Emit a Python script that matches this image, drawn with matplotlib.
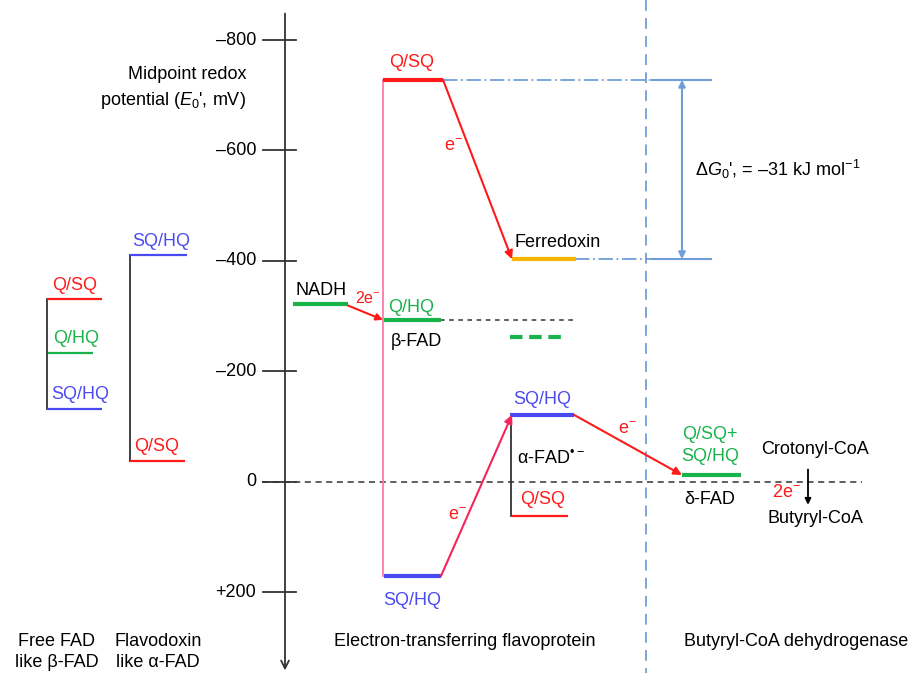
import matplotlib
matplotlib.use("Agg")
import matplotlib.pyplot as plt

plt.rcParams['font.family'] = ['Liberation Sans', 'DejaVu Sans']
plt.rcParams['mathtext.fontset'] = 'custom'
plt.rcParams['mathtext.rm'] = 'Liberation Sans'
plt.rcParams['mathtext.it'] = 'Liberation Sans:italic'
plt.rcParams['mathtext.bf'] = 'Liberation Sans:bold'

# axis ticks (mV)
tick_values = [-800, -600, -400, -200, 0, 200]
tick_labels = ['–800', '–600', '–400', '–200', '0', '+200']

# midpoint potentials (mV)
free_fad = [-330, -233, -132]          # Q/SQ, Q/HQ, SQ/HQ
flavodoxin = [-410, -37]               # SQ/HQ, Q/SQ
nadh = -322
beta_fad_qhq = -293
beta_fad_dashed = -262
alpha_fad = [-728, 171]                # Q/SQ, SQ/HQ (bifurcating)
ferredoxin = -403
alpha_fad_radical = [-121, 62]         # SQ/HQ, Q/SQ
delta_fad = -12
crotonyl = 0

RED = '#ff1a1a'
BLUE = '#4a4af2'
GREEN = '#19b24b'
PINK = '#ff7aa6'
ORANGE = '#f7b500'
LBLUE = '#6f9fd6'
FS = 13

fig = plt.figure(figsize=(9.14, 6.73), dpi=100)
ax = fig.add_axes([0, 0, 1, 1])
ax.set_xlim(0, 914)
ax.set_ylim(346.7, -872.5)
ax.axis('off')


def level(x0, x1, y, color, lw=3.0, **kw):
    ax.plot([x0, x1], [y, y], color=color, lw=lw, solid_capstyle='butt', **kw)


def arrow(p0, p1, color, lw=1.5, style='-|>', ms=12):
    ax.annotate('', xy=p1, xytext=p0,
                arrowprops=dict(arrowstyle=style, color=color, lw=lw,
                                mutation_scale=ms, shrinkA=0, shrinkB=0))


# y axis
ax.annotate('', xy=(285, 342), xytext=(285, -848),
            arrowprops=dict(arrowstyle='->', color='#333333', lw=1.3,
                            mutation_scale=14, shrinkA=0, shrinkB=0))
for v, lab in zip(tick_values, tick_labels):
    ax.plot([263, 296], [v, v], color='#333333', lw=1.3)
    ax.text(256, v, lab, ha='right', va='center', fontsize=FS)
ax.text(246, -737, 'Midpoint redox', ha='right', va='center', fontsize=FS)
ax.text(246, -690, "potential ($E_0$', mV)", ha='right', va='center', fontsize=FS)

# zero line
ax.plot([262, 862], [crotonyl, crotonyl], color='#333333', lw=1.1, ls=(0, (4, 3)))

# free FAD
ax.plot([47, 47], [free_fad[0], free_fad[2]], color='#333333', lw=1.3)
level(47, 102, free_fad[0], RED, lw=1.6)
level(48, 93, free_fad[1], GREEN, lw=1.6)
level(47, 102, free_fad[2], BLUE, lw=1.6)
ax.text(75, free_fad[0] - 25, 'Q/SQ', color=RED, ha='center', va='center', fontsize=FS)
ax.text(76, free_fad[1] - 27, 'Q/HQ', color=GREEN, ha='center', va='center', fontsize=FS)
ax.text(80, free_fad[2] - 26, 'SQ/HQ', color=BLUE, ha='center', va='center', fontsize=FS)

# flavodoxin
ax.plot([130, 130], flavodoxin, color='#333333', lw=1.3)
level(130, 187, flavodoxin[0], BLUE, lw=1.6)
level(130, 185, flavodoxin[1], RED, lw=1.6)
ax.text(161, flavodoxin[0] - 25, 'SQ/HQ', color=BLUE, ha='center', va='center', fontsize=FS)
ax.text(157, flavodoxin[1] - 26, 'Q/SQ', color=RED, ha='center', va='center', fontsize=FS)

# NADH -> beta-FAD
level(293, 348, nadh, GREEN)
ax.text(321, nadh - 24, 'NADH', ha='center', va='center', fontsize=FS)
arrow((348, nadh + 3), (383, beta_fad_qhq), RED, ms=10)
ax.text(368, nadh - 10, '2e$^{-}$', color=RED, ha='center', va='center', fontsize=FS - 1.5)
ax.plot([440, 575], [beta_fad_qhq, beta_fad_qhq], color='#333333', lw=1.1, ls=(0, (3, 3)))
level(384, 441, beta_fad_qhq, GREEN)
ax.text(411, beta_fad_qhq - 22, 'Q/HQ', color=GREEN, ha='center', va='center', fontsize=FS)
ax.text(416, beta_fad_qhq + 40, 'β-FAD', ha='center', va='center', fontsize=FS)
ax.plot([510, 567], [beta_fad_dashed, beta_fad_dashed], color=GREEN, lw=3, ls=(0, (3, 1.6)))

# bifurcating alpha-FAD
ax.plot([383, 383], alpha_fad, color=PINK, lw=1.3)
level(383, 443, alpha_fad[0], RED)
level(384, 441, alpha_fad[1], BLUE)
ax.text(412, alpha_fad[0] - 31, 'Q/SQ', color=RED, ha='center', va='center', fontsize=FS)
ax.text(412, alpha_fad[1] + 44, 'SQ/HQ', color=BLUE, ha='center', va='center', fontsize=FS)

# to ferredoxin
arrow((443, alpha_fad[0]), (512, ferredoxin), RED)
ax.text(453, -608, 'e$^{-}$', color=RED, ha='center', va='center', fontsize=FS)
ax.plot([443, 652], [alpha_fad[0], alpha_fad[0]], color=LBLUE, lw=1.3, ls=(0, (8, 2, 1, 2)))
ax.plot([575, 652], [ferredoxin, ferredoxin], color=LBLUE, lw=1.3, ls=(0, (8, 2, 1, 2)))
ax.plot([652, 711], [alpha_fad[0], alpha_fad[0]], color=LBLUE, lw=1.5)
ax.plot([652, 711], [ferredoxin, ferredoxin], color=LBLUE, lw=1.5)
level(512, 576, ferredoxin, ORANGE)
ax.text(558, ferredoxin - 30, 'Ferredoxin', ha='center', va='center', fontsize=FS)
arrow((682, alpha_fad[0]), (682, ferredoxin), LBLUE, style='<|-|>', ms=10)
ax.text(695, -565, "Δ$G_0$', = –31 kJ mol$^{-1}$", ha='left', va='center', fontsize=FS)

# to alpha-FAD radical
arrow((441, alpha_fad[1]), (512, alpha_fad_radical[0]), '#f5245a')
ax.text(457, 62, 'e$^{-}$', color=RED, ha='center', va='center', fontsize=FS)
ax.plot([511, 511], alpha_fad_radical, color='#333333', lw=1.3)
level(510, 574, alpha_fad_radical[0], BLUE)
level(512, 568, alpha_fad_radical[1], RED, lw=1.6)
ax.text(542, alpha_fad_radical[0] - 28, 'SQ/HQ', color=BLUE, ha='center', va='center', fontsize=FS)
ax.text(543, alpha_fad_radical[1] - 30, 'Q/SQ', color=RED, ha='center', va='center', fontsize=FS)
ax.text(517, -42, 'α-FAD$^{•−}$', ha='left', va='center', fontsize=FS)

# to delta-FAD
arrow((574, alpha_fad_radical[0]), (682, delta_fad), RED)
ax.text(627, -95, 'e$^{-}$', color=RED, ha='center', va='center', fontsize=FS)
level(682, 741, delta_fad, GREEN)
ax.text(710, -85, 'Q/SQ+', color=GREEN, ha='center', va='center', fontsize=FS)
ax.text(710, -45, 'SQ/HQ', color=GREEN, ha='center', va='center', fontsize=FS)
ax.text(710, 33, 'δ-FAD', ha='center', va='center', fontsize=FS)

# crotonyl-CoA reduction
ax.text(815, -58, 'Crotonyl-CoA', ha='center', va='center', fontsize=FS)
arrow((808, -22), (808, 42), 'black', lw=1.3, ms=9)
ax.text(786, 20, '2e$^{-}$', color=RED, ha='center', va='center', fontsize=FS)
ax.text(815, 67, 'Butyryl-CoA', ha='center', va='center', fontsize=FS)

# separator
ax.plot([646, 646], [-872, 346], color=LBLUE, lw=1.3, ls=(0, (6, 4)))

# bottom labels
ax.text(57, 290, 'Free FAD', ha='center', va='center', fontsize=FS)
ax.text(57, 327, 'like β-FAD', ha='center', va='center', fontsize=FS)
ax.text(158, 290, 'Flavodoxin', ha='center', va='center', fontsize=FS)
ax.text(158, 327, 'like α-FAD', ha='center', va='center', fontsize=FS)
ax.text(465, 290, 'Electron-transferring flavoprotein', ha='center', va='center', fontsize=FS)
ax.text(796, 290, 'Butyryl-CoA dehydrogenase', ha='center', va='center', fontsize=FS)

fig.savefig('out.png', dpi=100, facecolor='white')
